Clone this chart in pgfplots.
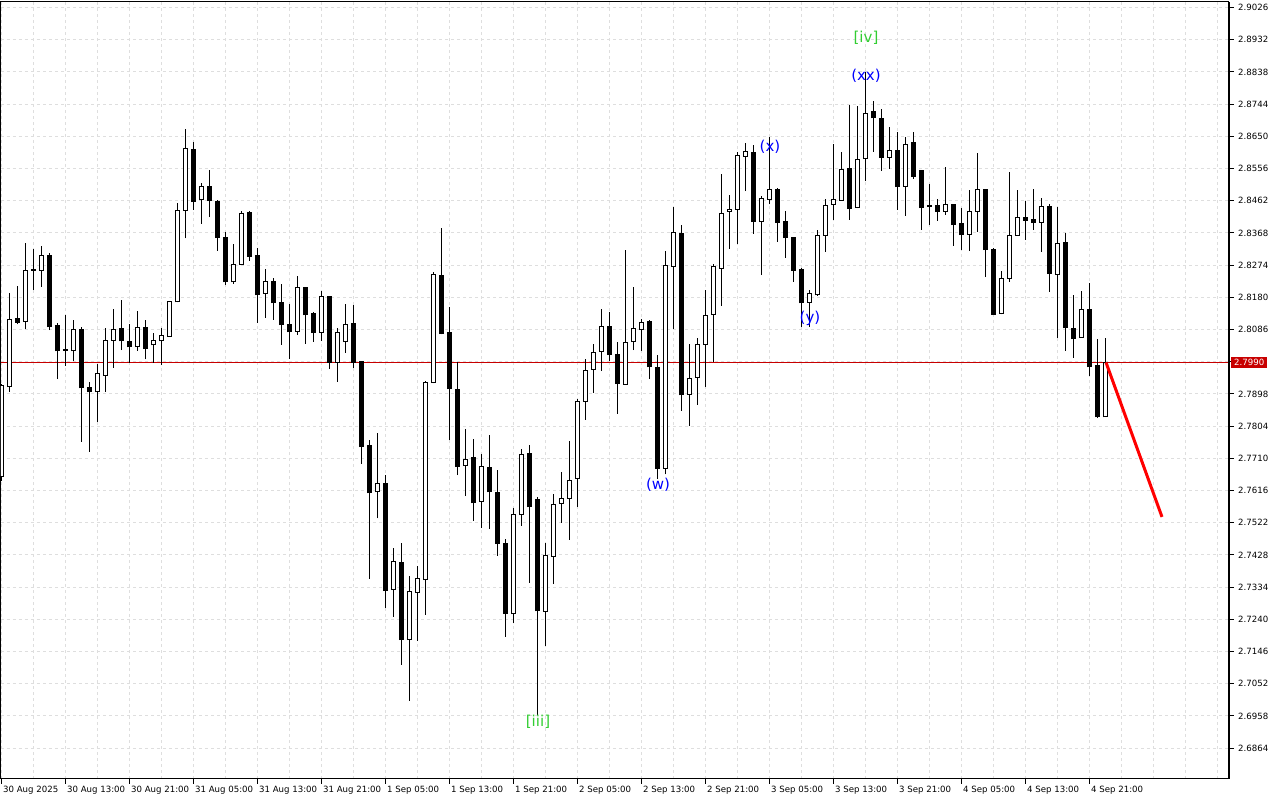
\documentclass[border=0pt]{standalone}
\usepackage{pgfplots}
\usepackage{pgfplotstable}
\pgfplotsset{compat=1.18}
\usepackage{fontspec}
\setmainfont{DejaVu Sans}

\definecolor{gridgray}{RGB}{222,222,222}
\definecolor{bidred}{RGB}{200,0,0}
\definecolor{wavegreen}{RGB}{50,205,50}
\definecolor{waveblue}{RGB}{0,0,255}

% hourly candles, i = hours since 30 Aug 05:00
\pgfplotstableread{
i o h l c
0 2.7658 2.7927 2.7644 2.7924
1 2.7919 2.8194 2.7904 2.8116
2 2.8119 2.8213 2.8101 2.8107
3 2.8109 2.8338 2.8087 2.8257
4 2.8259 2.8321 2.8202 2.8260
5 2.8259 2.8330 2.8211 2.8303
6 2.8303 2.8308 2.8084 2.8094
7 2.8099 2.8104 2.7941 2.8024
8 2.8029 2.8128 2.7980 2.8025
9 2.8024 2.8114 2.7994 2.8086
10 2.8087 2.8093 2.7758 2.7916
11 2.7918 2.7933 2.7729 2.7904
12 2.7904 2.7984 2.7817 2.7959
13 2.7952 2.8089 2.7904 2.8054
14 2.8054 2.8146 2.7974 2.8086
15 2.8089 2.8172 2.8026 2.8053
16 2.8052 2.8102 2.7989 2.8035
17 2.8036 2.8140 2.8024 2.8092
18 2.8092 2.8114 2.7999 2.8030
19 2.8041 2.8075 2.7989 2.8054
20 2.8053 2.8089 2.7982 2.8069
21 2.8067 2.8170 2.8065 2.8168
22 2.8167 2.8454 2.8165 2.8434
23 2.8434 2.8670 2.8352 2.8615
24 2.8612 2.8633 2.8435 2.8459
25 2.8465 2.8514 2.8395 2.8504
26 2.8504 2.8552 2.8414 2.8462
27 2.8461 2.8463 2.8316 2.8354
28 2.8355 2.8370 2.8217 2.8225
29 2.8225 2.8336 2.8220 2.8276
30 2.8276 2.8432 2.8275 2.8425
31 2.8428 2.8432 2.8287 2.8300
32 2.8303 2.8323 2.8106 2.8187
33 2.8192 2.8262 2.8120 2.8227
34 2.8227 2.8235 2.8114 2.8164
35 2.8165 2.8219 2.8041 2.8100
36 2.8101 2.8160 2.8001 2.8079
37 2.8081 2.8242 2.8070 2.8209
38 2.8209 2.8211 2.8044 2.8129
39 2.8133 2.8137 2.8050 2.8077
40 2.8077 2.8198 2.8053 2.8183
41 2.8183 2.8185 2.7971 2.7990
42 2.7990 2.8091 2.7933 2.8078
43 2.8051 2.8160 2.8018 2.8101
44 2.8104 2.8157 2.7974 2.7991
45 2.7993 2.7995 2.7694 2.7744
46 2.7746 2.7763 2.7359 2.7609
47 2.7612 2.7783 2.7535 2.7637
48 2.7637 2.7660 2.7274 2.7324
49 2.7327 2.7447 2.7247 2.7409
50 2.7406 2.7462 2.7108 2.7181
51 2.7181 2.7366 2.7002 2.7321
52 2.7319 2.7395 2.7177 2.7359
53 2.7356 2.7935 2.7253 2.7932
54 2.7931 2.8255 2.7929 2.8248
55 2.8245 2.8382 2.8072 2.8074
56 2.8078 2.8151 2.7763 2.7913
57 2.7912 2.7990 2.7661 2.7687
58 2.7689 2.7795 2.7600 2.7707
59 2.7711 2.7766 2.7528 2.7580
60 2.7584 2.7724 2.7508 2.7686
61 2.7683 2.7777 2.7505 2.7612
62 2.7611 2.7676 2.7425 2.7461
63 2.7462 2.7474 2.7189 2.7257
64 2.7257 2.7564 2.7228 2.7546
65 2.7546 2.7737 2.7513 2.7721
66 2.7724 2.7749 2.7347 2.7568
67 2.7591 2.7597 2.6960 2.7265
68 2.7263 2.7462 2.7163 2.7427
69 2.7424 2.7606 2.7343 2.7575
70 2.7578 2.7670 2.7522 2.7593
71 2.7593 2.7760 2.7472 2.7646
72 2.7651 2.7883 2.7568 2.7876
73 2.7876 2.7999 2.7822 2.7967
74 2.7970 2.8044 2.7901 2.8019
75 2.8022 2.8146 2.7966 2.8095
76 2.8095 2.8137 2.7995 2.8013
77 2.8013 2.8049 2.7840 2.7928
78 2.7926 2.8318 2.7925 2.8048
79 2.8051 2.8210 2.8026 2.8089
80 2.8086 2.8117 2.8024 2.8107
81 2.8108 2.8114 2.7942 2.7977
82 2.7975 2.8013 2.7651 2.7681
83 2.7681 2.8315 2.7663 2.8273
84 2.8270 2.8444 2.8088 2.8370
85 2.8367 2.8391 2.7849 2.7895
86 2.7897 2.8044 2.7805 2.7943
87 2.7946 2.8061 2.7867 2.8043
88 2.8043 2.8201 2.7919 2.8127
89 2.8131 2.8276 2.7992 2.8270
90 2.8265 2.8540 2.8155 2.8425
91 2.8431 2.8478 2.8322 2.8437
92 2.8437 2.8604 2.8335 2.8595
93 2.8592 2.8630 2.8490 2.8606
94 2.8603 2.8625 2.8366 2.8401
95 2.8401 2.8476 2.8245 2.8469
96 2.8466 2.8649 2.8451 2.8495
97 2.8495 2.8498 2.8342 2.8398
98 2.8400 2.8432 2.8296 2.8354
99 2.8355 2.8357 2.8225 2.8258
100 2.8260 2.8266 2.8094 2.8164
101 2.8165 2.8201 2.8094 2.8190
102 2.8187 2.8376 2.8185 2.8361
103 2.8361 2.8466 2.8313 2.8449
104 2.8451 2.8627 2.8406 2.8466
105 2.8463 2.8603 2.8462 2.8554
106 2.8557 2.8741 2.8406 2.8439
107 2.8442 2.8738 2.8440 2.8583
108 2.8585 2.8838 2.8519 2.8717
109 2.8721 2.8753 2.8605 2.8704
110 2.8703 2.8730 2.8550 2.8589
111 2.8589 2.8676 2.8555 2.8609
112 2.8609 2.8662 2.8436 2.8503
113 2.8504 2.8647 2.8418 2.8627
114 2.8632 2.8662 2.8526 2.8532
115 2.8551 2.8553 2.8377 2.8442
116 2.8449 2.8510 2.8392 2.8446
117 2.8449 2.8466 2.8404 2.8430
118 2.8431 2.8559 2.8421 2.8451
119 2.8451 2.8453 2.8331 2.8392
120 2.8394 2.8440 2.8318 2.8363
121 2.8364 2.8492 2.8316 2.8430
122 2.8430 2.8600 2.8371 2.8495
123 2.8495 2.8497 2.8239 2.8319
124 2.8321 2.8323 2.8129 2.8131
125 2.8133 2.8257 2.8130 2.8235
126 2.8235 2.8546 2.8225 2.8361
127 2.8361 2.8493 2.8360 2.8413
128 2.8414 2.8461 2.8348 2.8405
129 2.8406 2.8496 2.8377 2.8398
130 2.8399 2.8470 2.8313 2.8446
131 2.8446 2.8451 2.8196 2.8249
132 2.8247 2.8444 2.8062 2.8338
133 2.8340 2.8368 2.8024 2.8091
134 2.8090 2.8187 2.8004 2.8059
135 2.8063 2.8198 2.8062 2.8143
136 2.8143 2.8222 2.7951 2.7977
137 2.7982 2.8058 2.7827 2.7831
138 2.7831 2.8062 2.7830 2.7990
}\candles

\begin{document}
\begin{tikzpicture}
\path[use as bounding box] (0pt,0pt) rectangle (1280pt,800pt);
\begin{axis}[
  name=ax,
  at={(1pt,21pt)}, anchor=south west,
  width=1228pt, height=777pt, scale only axis,
  xmin=-0.125, xmax=153.375,
  ymin=2.6774, ymax=2.9042,
  axis line style={line width=1pt},
  xtick={0,8,...,136},
  xticklabels={30 Aug 2025, 30 Aug 13:00, 30 Aug 21:00, 31 Aug 05:00, 31 Aug 13:00, 31 Aug 21:00, 1 Sep 05:00, 1 Sep 13:00, 1 Sep 21:00, 2 Sep 05:00, 2 Sep 13:00, 2 Sep 21:00, 3 Sep 05:00, 3 Sep 13:00, 3 Sep 21:00, 4 Sep 05:00, 4 Sep 13:00, 4 Sep 21:00},
  minor xtick={0,4,...,152},
  ytick={2.6864,2.6958,2.7052,2.7146,2.7240,2.7334,2.7428,2.7522,2.7616,2.7710,2.7804,2.7898,2.7992,2.8086,2.8180,2.8274,2.8368,2.8462,2.8556,2.8650,2.8744,2.8838,2.8932,2.9026},
  yticklabels={2.6864,2.6958,2.7052,2.7146,2.7240,2.7334,2.7428,2.7522,2.7616,2.7710,2.7804,2.7898,{},2.8086,2.8180,2.8274,2.8368,2.8462,2.8556,2.8650,2.8744,2.8838,2.8932,2.9026},
  xtick pos=left, ytick pos=right,
  yticklabel pos=right,
  tick align=outside,
  major tick length=5pt, minor tick length=0pt,
  every tick/.style={black, line width=1pt},
  xminorgrids, ymajorgrids,
  major grid style={gridgray, dash pattern=on 3pt off 3pt, line width=1pt},
  minor grid style={gridgray, dash pattern=on 3pt off 3pt, line width=1pt},
  tick label style={font=\fontsize{8.6}{10}\selectfont, inner sep=0pt},
  xticklabel style={anchor=north west, xshift=1pt, yshift=-2pt},
  yticklabel style={anchor=west, xshift=4pt},
]
% bid line
\addplot[bidred, line width=1pt] coordinates {(-1,2.7990) (154,2.7990)};
% wicks
\addplot[draw=none, mark=none, error bars/.cd, y dir=plus, y explicit, error mark=none,
  error bar style={draw=black, solid, line width=1pt}]
  table[x=i, y=l, y error plus expr={\thisrow{h}-\thisrow{l}}] {\candles};
% bodies: black outline / fill
\addplot[draw=none, mark=none, error bars/.cd, y dir=plus, y explicit, error mark=none,
  error bar style={draw=black, solid, line width=5pt}]
  table[x=i, y expr={min(\thisrow{o},\thisrow{c})-0.000146},
        y error plus expr={abs(\thisrow{c}-\thisrow{o})+0.000292}] {\candles};
% bodies: white inside of rising candles
\addplot[draw=none, mark=none, error bars/.cd, y dir=plus, y explicit, error mark=none,
  error bar style={draw=white, solid, line width=3pt}]
  table[x=i, y expr={\thisrow{o}+0.000146},
        y error plus expr={max(\thisrow{c}-\thisrow{o}-0.000292,0)}] {\candles};
% forecast line
\addplot[red, line width=3pt] coordinates {(138,2.7990) (145,2.7539)};
% wave labels
\node[text=wavegreen, font=\fontsize{15}{17}\selectfont] at (axis cs:67,2.6940) {[iii]};
\node[text=wavegreen, font=\fontsize{15}{17}\selectfont] at (axis cs:108,2.8937) {[iv]};
\node[text=waveblue, font=\fontsize{15}{17}\selectfont] at (axis cs:82,2.7632) {(w)};
\node[text=waveblue, font=\fontsize{15}{17}\selectfont] at (axis cs:96,2.8619) {(x)};
\node[text=waveblue, font=\fontsize{15}{17}\selectfont] at (axis cs:101,2.8119) {(y)};
\node[text=waveblue, font=\fontsize{15}{17}\selectfont] at (axis cs:108,2.8826) {(xx)};
\coordinate (bid) at (axis cs:153.375,2.7990);
\end{axis}
\draw[line width=2pt] ([xshift=0.5pt]ax.south east) -- ([xshift=0.5pt]ax.north east);
\node[fill=bidred, text=white, anchor=west, inner xsep=3pt, inner ysep=2pt,
  font=\fontsize{8.6}{10}\selectfont] at ([xshift=2pt]bid) {2.7990};
\end{tikzpicture}
\end{document}
